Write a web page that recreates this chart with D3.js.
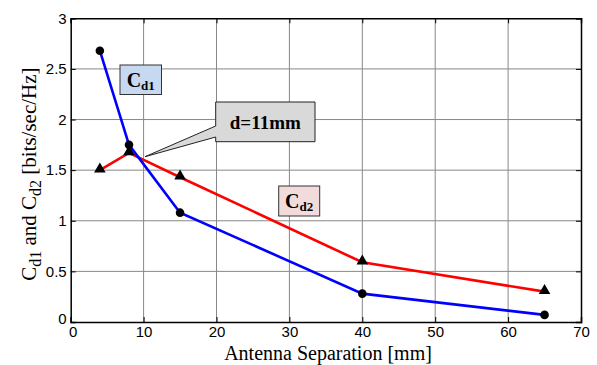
<!DOCTYPE html>
<html><head><meta charset="utf-8">
<script src="https://cdn.jsdelivr.net/npm/d3@7"></script>
<style>body{margin:0;background:#fff}svg{display:block}</style>
</head><body>
<script>
const separation = [4, 8, 15, 40, 65];
const cd1 = [2.68, 1.75, 1.08, 0.28, 0.07];
const cd2 = [1.50, 1.67, 1.43, 0.59, 0.30];
const xTicks = [0, 10, 20, 30, 40, 50, 60, 70];
const yTicks = [0, 0.5, 1, 1.5, 2, 2.5, 3];

const W = 597, H = 365;
const m = {l: 70.7, r: 16, t: 18.3, b: 43};
const svg = d3.select("body").append("svg").attr("width", W).attr("height", H);
const x = d3.scaleLinear().domain([0, 70]).range([m.l, W - m.r]);
const y = d3.scaleLinear().domain([0, 3]).range([H - m.b, m.t]);

// grid
const g = svg.append("g");
g.selectAll(".gx").data(xTicks.slice(1, -1)).join("line")
  .attr("x1", d => x(d)).attr("x2", d => x(d)).attr("y1", y(0)).attr("y2", y(3))
  .attr("stroke", "#888").attr("stroke-width", 1);
g.selectAll(".gy").data(yTicks.slice(1, -1)).join("line")
  .attr("y1", d => y(d)).attr("y2", d => y(d)).attr("x1", x(0)).attr("x2", x(70))
  .attr("stroke", "#888").attr("stroke-width", 1);

// axes with inward ticks
const tickFont = "'Liberation Sans', Arial, sans-serif";
const ax = svg.append("g").attr("transform", `translate(0,${y(0)})`)
  .call(d3.axisBottom(x).tickValues(xTicks).tickSize(-5).tickPadding(4).tickFormat(d3.format("d")));
const ay = svg.append("g").attr("transform", `translate(${x(0)},0)`)
  .call(d3.axisLeft(y).tickValues(yTicks).tickSize(-5).tickPadding(4).tickFormat(d => d));
const at = svg.append("g").attr("transform", `translate(0,${y(3)})`)
  .call(d3.axisTop(x).tickValues(xTicks).tickSize(-5).tickFormat(""));
const ar = svg.append("g").attr("transform", `translate(${x(70)},0)`)
  .call(d3.axisRight(y).tickValues(yTicks).tickSize(-5).tickFormat(""));
[ax, ay, at, ar].forEach(a => {
  a.select(".domain").attr("stroke", "#000").attr("stroke-width", 1.5);
  a.selectAll(".tick line").attr("stroke", "#000");
  a.selectAll("text").attr("font-family", tickFont).attr("font-size", 15).attr("fill", "#000");
});
ax.selectAll(".tick").filter(d => d === 0).select("text").attr("dx", 2);
ay.selectAll(".tick").filter(d => d === 0).select("text").attr("dy", "0.1em");

// lines
const line = d3.line().x(d => x(d[0])).y(d => y(d[1]));
const d1 = separation.map((s, i) => [s, cd1[i]]);
const d2 = separation.map((s, i) => [s, cd2[i]]);
svg.append("path").datum(d2).attr("d", line).attr("fill", "none").attr("stroke", "#ff0000").attr("stroke-width", 2.6);
svg.append("path").datum(d1).attr("d", line).attr("fill", "none").attr("stroke", "#0000ff").attr("stroke-width", 2.6);
svg.selectAll(".c1").data(d1).join("circle")
  .attr("cx", d => x(d[0])).attr("cy", d => y(d[1])).attr("r", 4.3).attr("fill", "#000");
const tri = d3.symbol().type(d3.symbolTriangle).size(58);
svg.selectAll(".c2").data(d2).join("path")
  .attr("d", tri).attr("transform", d => `translate(${x(d[0])},${y(d[1]) - 1})`).attr("fill", "#000");

// labels
const serif = "'Liberation Serif', 'Times New Roman', serif";
function labelBox(x0, y0, w, h, fill, main, sub) {
  svg.append("rect").attr("x", x0).attr("y", y0).attr("width", w).attr("height", h)
    .attr("fill", fill).attr("stroke", "#333").attr("stroke-width", 1);
  const t = svg.append("text").attr("x", x0 + w / 2).attr("y", y0 + h / 2 + 7)
    .attr("text-anchor", "middle").attr("font-family", serif).attr("font-weight", "bold").attr("font-size", 20);
  t.append("tspan").text(main);
  t.append("tspan").attr("font-size", 13).attr("dy", 3).text(sub);
}
labelBox(120, 65, 41.5, 29.5, "#c6d9f0", "C", "d1");
labelBox(278.7, 186, 41, 30, "#f2dcdb", "C", "d2");

// callout
svg.append("path")
  .attr("d", "M215.7,102 L315,102 L315,141.7 L215.7,141.7 L215.7,137 L145,156.7 L215.7,126 Z")
  .attr("fill", "#d9d9d9").attr("stroke", "#222").attr("stroke-width", 1);
svg.append("text").attr("x", 265.3).attr("y", 128.5).attr("text-anchor", "middle")
  .attr("font-family", serif).attr("font-weight", "bold").attr("font-size", 19).text("d=11mm");

// axis titles
svg.append("text").attr("x", 328).attr("y", 360).attr("text-anchor", "middle")
  .attr("font-family", serif).attr("font-size", 20).text("Antenna Separation [mm]");
const yt = svg.append("text").attr("transform", `translate(36,${(y(0) + y(3)) / 2 + 4}) rotate(-90)`)
  .attr("text-anchor", "middle").attr("font-family", serif).attr("font-size", 21);
yt.append("tspan").text("C");
yt.append("tspan").attr("font-size", 16).attr("dy", 5).text("d1");
yt.append("tspan").attr("dy", -5).text(" and C");
yt.append("tspan").attr("font-size", 16).attr("dy", 5).text("d2");
yt.append("tspan").attr("dy", -5).text(" [bits/sec/Hz]");
</script>
</body></html>
